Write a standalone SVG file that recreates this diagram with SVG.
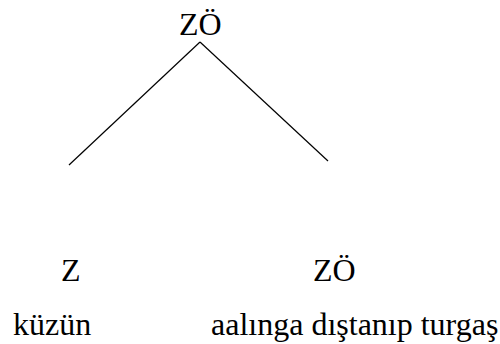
<svg xmlns="http://www.w3.org/2000/svg" width="500" height="344" viewBox="0 0 500 344">
<style>
.edge{stroke:#000;stroke-width:1.2;fill:none}
</style>
<rect width="500" height="344" fill="#fff"/>
<g id="connectors">
<line class="edge" x1="200" y1="42" x2="69" y2="165"/>
<line class="edge" x1="200" y1="42" x2="328" y2="161"/>
</g>
<g id="root"><text x="179" y="35" font-family="Liberation Serif, serif" font-size="32">ZÖ</text></g>
<g id="left"><text x="61" y="281" font-family="Liberation Serif, serif" font-size="32">Z</text><text x="13" y="335" font-family="Liberation Serif, serif" font-size="32">küzün</text></g>
<g id="right"><text x="313" y="281" font-family="Liberation Serif, serif" font-size="32">ZÖ</text><text x="211" y="335" font-family="Liberation Serif, serif" font-size="32">aalınga dıştanıp turgaş</text></g>
</svg>
